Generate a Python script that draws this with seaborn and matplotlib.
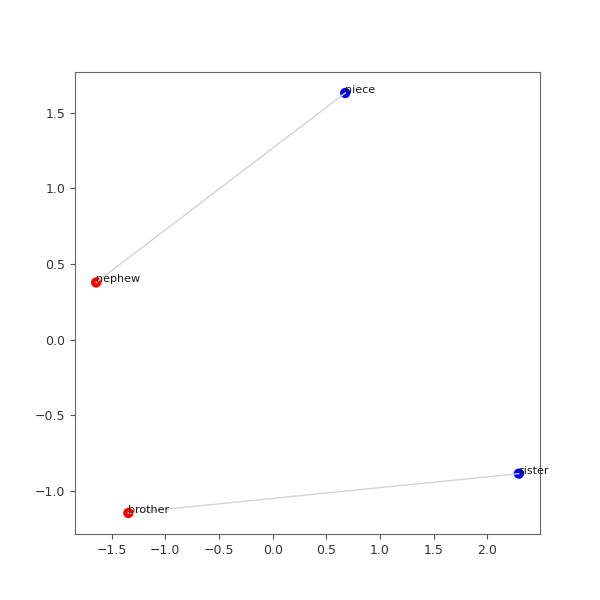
import matplotlib
matplotlib.use("Agg")
import matplotlib.pyplot as plt
import seaborn as sns
import pandas as pd

# word vectors projected to 2D
words = ['nephew', 'niece', 'brother', 'sister']
xs = [-1.645, 0.676, -1.345, 2.294]
ys = [0.378, 1.630, -1.145, -0.885]
gender = ['male', 'female', 'male', 'female']
pairs = [('nephew', 'niece'), ('brother', 'sister')]

df = pd.DataFrame({'word': words, 'x': xs, 'y': ys, 'gender': gender})

fig, ax = plt.subplots(figsize=(6, 6), dpi=100)
sns.scatterplot(data=df, x='x', y='y', hue='gender',
                palette={'male': 'red', 'female': 'blue'},
                s=55, linewidth=0, legend=False, ax=ax)

# connect the pairs
for a, b in pairs:
    pa = df[df['word'] == a].iloc[0]
    pb = df[df['word'] == b].iloc[0]
    ax.plot([pa['x'], pb['x']], [pa['y'], pb['y']], color='lightgray', linewidth=1, zorder=3)

# label each point
for _, row in df.iterrows():
    ax.text(row['x'], row['y'], row['word'], fontsize=8, color='#1a1a1a', zorder=4)

ax.set_xlabel('')
ax.set_ylabel('')
for sp in ax.spines.values():
    sp.set_color('#666666')
ax.tick_params(colors='#555555', labelcolor='#333333', labelsize=9)

plt.savefig('out.png')
